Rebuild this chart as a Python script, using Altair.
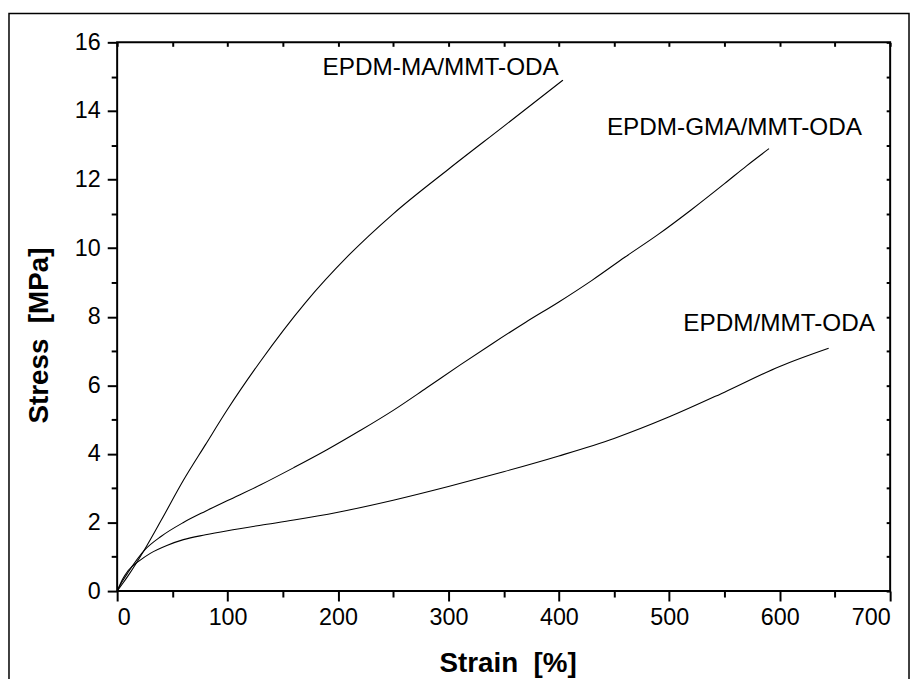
import altair as alt
import pandas as pd

FONT = "Liberation Sans"

# ---- data ----
ma_strain = [0, 5, 10, 25, 40, 60, 80, 100, 130, 170, 210, 250, 300, 350, 403.7]
ma_stress = [0, 0.22, 0.45, 1.22, 2.07, 3.23, 4.27, 5.3, 6.71, 8.39, 9.8, 11.0, 12.3, 13.55, 14.9]

gma_strain = [0, 5, 10, 25, 40, 60, 80, 100, 130, 160, 190, 220, 250, 280, 310, 340, 370,
              400, 430, 460, 490, 520, 550, 570, 590.3]
gma_stress = [0, 0.3, 0.55, 1.2, 1.6, 2.0, 2.33, 2.64, 3.1, 3.6, 4.12, 4.68, 5.27, 5.92, 6.58,
              7.22, 7.84, 8.43, 9.06, 9.74, 10.4, 11.12, 11.88, 12.4, 12.9]

epdm_strain = [0, 5, 10, 20, 30, 45, 60, 80, 100, 130, 160, 200, 250, 300, 350, 400, 450,
               500, 550, 600, 644.3]
epdm_stress = [0, 0.35, 0.6, 0.88, 1.1, 1.33, 1.5, 1.64, 1.76, 1.92, 2.07, 2.3, 2.65, 3.05,
               3.48, 3.94, 4.45, 5.08, 5.8, 6.55, 7.08]

series_names = ["EPDM-MA/MMT-ODA", "EPDM-GMA/MMT-ODA", "EPDM/MMT-ODA"]

label_text = ["EPDM-MA/MMT-ODA", "EPDM-GMA/MMT-ODA", "EPDM/MMT-ODA"]
label_x = [293, 559, 599.5]
label_y = [15.25, 13.5, 7.8]

x_major = [0, 100, 200, 300, 400, 500, 600, 700]
x_minor = [50, 150, 250, 350, 450, 550, 650]
x_all = [0, 50, 100, 150, 200, 250, 300, 350, 400, 450, 500, 550, 600, 650, 700]
y_major = [0, 2, 4, 6, 8, 10, 12, 14, 16]
y_minor = [1, 3, 5, 7, 9, 11, 13, 15]
y_all = list(range(0, 17))

rows = []
for name, xs, ys in zip(series_names, [ma_strain, gma_strain, epdm_strain],
                        [ma_stress, gma_stress, epdm_stress]):
    for i, (a, b) in enumerate(zip(xs, ys)):
        rows.append({"series": name, "strain": a, "stress": b, "order": i})
df = pd.DataFrame(rows)

lab_df = pd.DataFrame({"label": label_text, "x": label_x, "y": label_y})

W, H = 779, 553

x_scale = alt.Scale(domain=[0, 700], nice=False, zero=False)
y_scale = alt.Scale(domain=[0, 16], nice=False, zero=False)

common_axis = dict(grid=False, domain=False, tickColor="black", tickWidth=2,
                   labelFont=FONT, labelColor="black")

lines = alt.Chart(df).mark_line(color="black", strokeWidth=1.1, interpolate="monotone").encode(
    x=alt.X("strain:Q", scale=x_scale,
            axis=alt.Axis(orient="bottom", values=x_major, tickSize=10, labelFontSize=23.5,
                          labelPadding=5, format="d",
                          title="Strain\u00a0\u00a0[%]", titleFont=FONT, titleFontSize=28,
                          titleFontWeight="bold", titleColor="black",
                          titleX=W / 2 + 4, titleY=81, titleAlign="center",
                          titleBaseline="alphabetic", **common_axis)),
    y=alt.Y("stress:Q", scale=y_scale,
            axis=alt.Axis(orient="left", values=y_major, tickSize=10, labelFontSize=23.5,
                          labelPadding=7, format="d",
                          title="Stress\u00a0\u00a0[MPa]", titleFont=FONT, titleFontSize=28,
                          titleFontWeight="bold", titleColor="black",
                          titleAngle=270, titleX=-78, titleY=295, titleAlign="center",
                          titleBaseline="middle", **common_axis)),
    detail="series:N",
    order="order:Q",
)

minor = alt.Chart(df).mark_line(strokeOpacity=0).encode(
    x=alt.X("strain:Q", scale=x_scale,
            axis=alt.Axis(orient="bottom", values=x_minor, tickSize=6, labels=False,
                          title=None, **common_axis)),
    y=alt.Y("stress:Q", scale=y_scale,
            axis=alt.Axis(orient="left", values=y_minor, tickSize=6, labels=False,
                          title=None, **common_axis)),
    detail="series:N",
)

inner = alt.Chart(df).mark_line(strokeOpacity=0).encode(
    x=alt.X("strain:Q", scale=x_scale,
            axis=alt.Axis(orient="top", values=x_all, tickSize=4, offset=-4, labels=False,
                          title=None, **common_axis)),
    y=alt.Y("stress:Q", scale=y_scale,
            axis=alt.Axis(orient="right", values=y_all, tickSize=4, offset=-4, labels=False,
                          title=None, **common_axis)),
    detail="series:N",
)

labels = alt.Chart(lab_df).mark_text(font=FONT, fontSize=24.5, color="black",
                                     align="center", baseline="middle").encode(
    x=alt.X("x:Q", scale=x_scale, axis=None),
    y=alt.Y("y:Q", scale=y_scale, axis=None),
    text="label:N",
)

frame = alt.Chart(pd.DataFrame({"k": [0]})).mark_rect(
    filled=False, stroke="black", strokeWidth=1.5
).encode(
    x=alt.value(-109), x2=alt.value(798), y=alt.value(-29), y2=alt.value(720)
)

chart = alt.layer(frame, minor, inner, lines, labels).resolve_axis(
    x="independent", y="independent"
).properties(
    width=W, height=H,
    autosize=alt.AutoSizeParams(type="none"),
    padding={"left": 110, "top": 32, "right": 20, "bottom": 86},
    background="white",
).configure_view(stroke="black", strokeWidth=2)

chart.save("out.html", embed_options={"renderer": "svg", "actions": False})
